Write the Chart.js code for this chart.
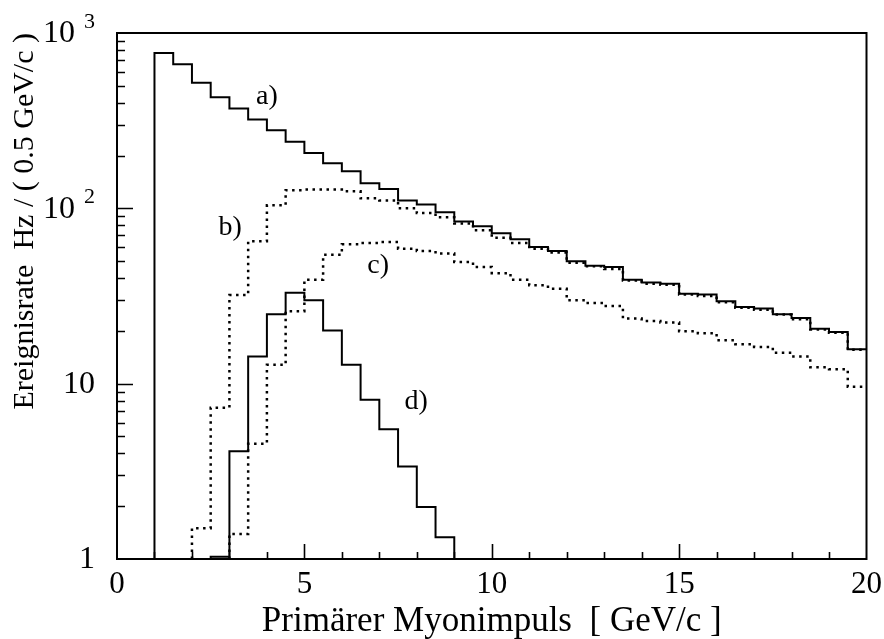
<!DOCTYPE html>
<html>
<head>
<meta charset="utf-8">
<title>Ereignisrate</title>
<script src="https://cdn.jsdelivr.net/npm/chart.js@4.4.1/dist/chart.umd.min.js"></script>
<style>
    html, body { margin: 0; padding: 0; background: #fff; }
    #wrap { width: 884px; height: 639px; }
</style>
</head>
<body>
<div id="wrap"><canvas id="rateChart"></canvas></div>
<script>
// Histograms in 0.5 GeV/c bins, rate in Hz per bin
const binWidth = 0.5;
const floorRate = 1;          // lower edge of the log axis

const startA = 1.0;
const rateA = [769, 663, 520, 430, 371, 321, 279, 240, 207, 181, 163, 139, 129, 111, 105, 95, 84, 79,
               72, 66.6, 60.2, 57.1, 49.9, 47.1, 46.3, 39.2, 37.7, 37.2, 32.6, 32.2, 29.5, 27.4, 26.8, 24.9, 23.7, 20.6, 19.7, 15.7];

const startB = 2.0;
const rateB = [1.5, 7.3, 32, 65, 104, 127, 128, 128, 125, 114, 111, 100, 94, 89, 82, 75,
               68, 63.4, 58.9, 55.9, 49.0, 46.7, 45.1, 38.8, 37.2, 36.7, 32.3, 31.6, 29.1, 27.1, 26.4, 24.8, 23.3, 20.4, 19.5, 15.6];

const startC = 3.0;
const rateC = [1.39, 4.55, 12.8, 25.9, 39.2, 54.4, 62.3, 63.4, 64.2, 58.9, 57.1, 55.2, 49.4, 46.3,
               42.7, 39.2, 36.4, 34.8, 29.9, 28.8, 27.7, 23.5, 22.8, 22.3, 19.9, 19.4, 17.7, 16.8, 16.2, 15.0, 14.3, 12.4, 12.1, 9.6];

const startD = 2.5;
const rateD = [1.03, 4.11, 14.3, 24.9, 33.0, 29.9, 20.1, 12.8, 8.1, 5.49, 3.37, 1.98, 1.33];

const xTicks = [0, 5, 10, 15, 20];
const yTicks = [1, 10, 100, 1000];
// mantissa and exponent of each y label ('' = no exponent)
const yTickBase = ['1', '10', '10', '10'];
const yTickExp = ['', '', '2', '3'];

// curve tags, placed in data units
const curveTags = [
    { text: 'a)', x: 4.0, y: 435 },
    { text: 'b)', x: 3.02, y: 78 },
    { text: 'c)', x: 6.97, y: 47 },
    { text: 'd)', x: 7.98, y: 7.9 }
];

const serif = "'Liberation Serif', 'Times New Roman', serif";

// turn bin contents into an outline: up from the axis, across each bin
function histOutline(start, values, dropAtEnd) {
    const pts = [{ x: start, y: floorRate }];
    values.forEach((v, i) => {
        const lo = start + i * binWidth;
        pts.push({ x: lo, y: v }, { x: lo + binWidth, y: v });
    });
    if (dropAtEnd) {
        pts.push({ x: start + values.length * binWidth, y: floorRate });
    }
    return pts;
}

function histDataset(label, points, dotted) {
    return {
        label: label,
        data: points,
        borderColor: '#000',
        borderWidth: dotted ? 2.5 : 2,
        borderDash: dotted ? [2.5, 4.5] : [],
        borderCapStyle: 'butt',
        borderJoinStyle: 'miter',
        pointRadius: 0,
        tension: 0,
        fill: false
    };
}

// frame, inward tick marks, y labels with exponents and curve tags
const framePlugin = {
    id: 'frameTicks',
    afterDatasetsDraw(chart) {
        const { ctx, chartArea: area, scales } = chart;
        const xs = scales.x, ys = scales.y;
        ctx.save();
        ctx.strokeStyle = '#000';
        ctx.lineWidth = 2;
        ctx.strokeRect(area.left, area.top, area.right - area.left, area.bottom - area.top);

        ctx.lineWidth = 1.6;
        ctx.beginPath();
        // bottom axis: every 1 GeV/c, longer every 5
        for (let v = 1; v < 20; v++) {
            const px = Math.round(xs.getPixelForValue(v)) + 0.5;
            const len = v % 5 === 0 ? 15 : 7;
            ctx.moveTo(px, area.bottom);
            ctx.lineTo(px, area.bottom - len);
        }
        // left axis: decades and 2..9 in between
        for (let dec = 1; dec <= 1000; dec *= 10) {
            for (let m = 1; m <= 9; m++) {
                const v = dec * m;
                if (v <= 1 || v >= 1000) continue;
                const py = Math.round(ys.getPixelForValue(v)) + 0.5;
                const len = m === 1 ? 16 : 8;
                ctx.moveTo(area.left, py);
                ctx.lineTo(area.left + len, py);
            }
        }
        ctx.stroke();

        ctx.fillStyle = '#000';
        ctx.textBaseline = 'middle';

        // y labels, right aligned, exponent raised
        const labelRight = area.left - 22;
        const baseFont = '32px ' + serif;
        const expFont = '22px ' + serif;
        yTicks.forEach((v, i) => {
            const py = ys.getPixelForValue(v);
            let right = labelRight;
            if (yTickExp[i]) {
                ctx.font = expFont;
                ctx.textAlign = 'right';
                ctx.fillText(yTickExp[i], right, py - 11);
                right -= ctx.measureText(yTickExp[i]).width + 9;
            }
            ctx.font = baseFont;
            ctx.textAlign = 'right';
            ctx.fillText(yTickBase[i], right, py + 1);
        });

        ctx.font = '28px ' + serif;
        ctx.textAlign = 'center';
        curveTags.forEach(t => {
            ctx.fillText(t.text, xs.getPixelForValue(t.x), ys.getPixelForValue(t.y));
        });
        ctx.restore();
    }
};

const chart = new Chart(document.getElementById('rateChart'), {
    type: 'line',
    data: {
        datasets: [
            histDataset('a)', histOutline(startA, rateA, false), false),
            histDataset('b)', histOutline(startB, rateB, false), true),
            histDataset('c)', histOutline(startC, rateC, false), true),
            histDataset('d)', histOutline(startD, rateD, true), false)
        ]
    },
    options: {
        responsive: true,
        maintainAspectRatio: false,
        devicePixelRatio: 1,
        animation: false,
        layout: { padding: { top: 33, right: 12, left: 0, bottom: 0 } },
        plugins: {
            legend: { display: false },
            tooltip: { enabled: false }
        },
        scales: {
            x: {
                type: 'linear',
                min: 0,
                max: 20,
                grid: { display: false },
                border: { display: false },
                afterBuildTicks: (scale) => { scale.ticks = xTicks.map(v => ({ value: v })); },
                afterFit: (scale) => { scale.height = 80; },
                ticks: {
                    color: '#000',
                    padding: 2,
                    maxRotation: 0,
                    font: { family: serif, size: 31, lineHeight: 1.0 }
                },
                title: {
                    display: true,
                    text: 'Primärer Myonimpuls  [ GeV/c ]',
                    color: '#000',
                    padding: 0,
                    font: { family: serif, size: 35, lineHeight: 1.0 }
                }
            },
            y: {
                type: 'logarithmic',
                min: 1,
                max: 1000,
                grid: { display: false },
                border: { display: false },
                afterBuildTicks: (scale) => { scale.ticks = yTicks.map(v => ({ value: v })); },
                afterFit: (scale) => { scale.width = 117; },
                ticks: { display: false },
                title: {
                    display: true,
                    text: 'Ereignisrate  Hz / ( 0.5 GeV/c )',
                    color: '#000',
                    align: 'end',
                    padding: 7,
                    font: { family: serif, size: 30 }
                }
            }
        }
    },
    plugins: [framePlugin]
});
</script>
</body>
</html>
